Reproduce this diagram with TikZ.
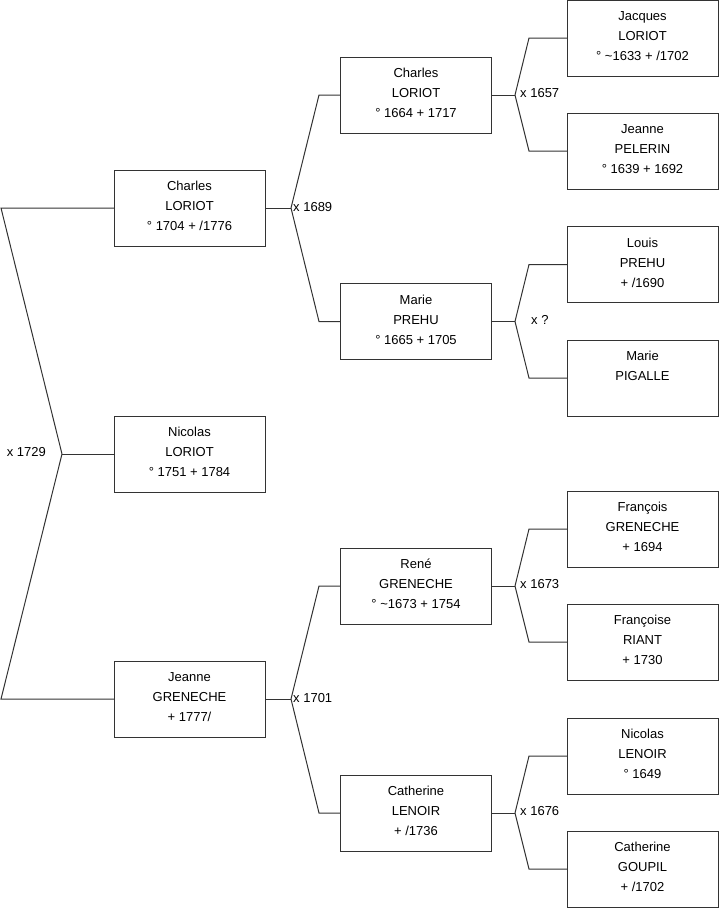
\documentclass[tikz,border=0pt]{standalone}
\usepackage{fontspec}
\setmainfont{Liberation Sans}
\newcommand{\pcard}[1]{\parbox[c][76pt][t]{151pt}{\centering\fontsize{13}{20}\selectfont\rule{0pt}{20.7pt}#1}}
\begin{document}
\begin{tikzpicture}[x=1pt,y=-1pt,
  person/.style={draw=black!80,line width=1pt,inner sep=0pt,outer sep=0pt},
  link/.style={draw=black!80,line width=1pt},
  marr/.style={anchor=base west,inner sep=0pt,font=\fontsize{13}{15}\selectfont}]
\useasboundingbox (0,0) rectangle (719,908);
% column 1
\node[person] (c1) at (189.5,208) {\pcard{Charles\\LORIOT\\° 1704 + /1776}};
\node[person] (n0) at (189.5,454) {\pcard{Nicolas\\LORIOT\\° 1751 + 1784}};
\node[person] (j1) at (189.5,699) {\pcard{Jeanne\\GRENECHE\\+ 1777/}};
% column 2
\node[person] (c2) at (416,95) {\pcard{Charles\\LORIOT\\° 1664 + 1717}};
\node[person] (m2) at (416,321.5) {\pcard{Marie\\PREHU\\° 1665 + 1705}};
\node[person] (r2) at (416,586) {\pcard{René\\GRENECHE\\° \textasciitilde1673 + 1754}};
\node[person] (k2) at (416,813) {\pcard{Catherine\\LENOIR\\+ /1736}};
% column 3
\node[person] (jq) at (642.5,38) {\pcard{Jacques\\LORIOT\\° \textasciitilde1633 + /1702}};
\node[person] (jp) at (642.5,151) {\pcard{Jeanne\\PELERIN\\° 1639 + 1692}};
\node[person] (lp) at (642.5,264.5) {\pcard{Louis\\PREHU\\+ /1690}};
\node[person] (mp) at (642.5,378) {\pcard{Marie\\PIGALLE}};
\node[person] (fg) at (642.5,529) {\pcard{François\\GRENECHE\\+ 1694}};
\node[person] (fr) at (642.5,642) {\pcard{Françoise\\RIANT\\+ 1730}};
\node[person] (nl) at (642.5,756) {\pcard{Nicolas\\LENOIR\\° 1649}};
\node[person] (cg) at (642.5,869) {\pcard{Catherine\\GOUPIL\\+ /1702}};
% junctions
\coordinate (J0) at (62,454);
\coordinate (J1) at (291,208);
\coordinate (J2) at (291,699);
\coordinate (J3) at (515,95);
\coordinate (J4) at (515,321.5);
\coordinate (J5) at (515,586);
\coordinate (J6) at (515,813);
% root
\draw[link] (n0.west) -- (J0);
\draw[link] (J0) -- (1,208) -- (c1.west);
\draw[link] (J0) -- (1,699) -- (j1.west);
\node[anchor=base east,inner sep=0pt,font=\fontsize{13}{15}\selectfont] (l0) at (46,456.5) {x 1729};
% Charles x Marie
\draw[link] (c1.east) -- (J1);
\draw[link] (J1) -- (319,95) -- (c2.west);
\draw[link] (J1) -- (319,321.5) -- (m2.west);
\node[marr] (l1) at (293,211.5) {x 1689};
% René x Catherine
\draw[link] (j1.east) -- (J2);
\draw[link] (J2) -- (319,586) -- (r2.west);
\draw[link] (J2) -- (319,813) -- (k2.west);
\node[marr] (l2) at (293,702.5) {x 1701};
% Jacques x Jeanne
\draw[link] (c2.east) -- (J3);
\draw[link] (J3) -- (529,38) -- (jq.west);
\draw[link] (J3) -- (529,151) -- (jp.west);
\node[marr] (l3) at (520,97.5) {x 1657};
% Louis x Marie
\draw[link] (m2.east) -- (J4);
\draw[link] (J4) -- (529,264.5) -- (lp.west);
\draw[link] (J4) -- (529,378) -- (mp.west);
\node[marr] (l4) at (531,324) {x ?};
% François x Françoise
\draw[link] (r2.east) -- (J5);
\draw[link] (J5) -- (529,529) -- (fg.west);
\draw[link] (J5) -- (529,642) -- (fr.west);
\node[marr] (l5) at (520,588.5) {x 1673};
% Nicolas x Catherine
\draw[link] (k2.east) -- (J6);
\draw[link] (J6) -- (529,756) -- (nl.west);
\draw[link] (J6) -- (529,869) -- (cg.west);
\node[marr] (l6) at (520,815.5) {x 1676};
\end{tikzpicture}
\end{document}
